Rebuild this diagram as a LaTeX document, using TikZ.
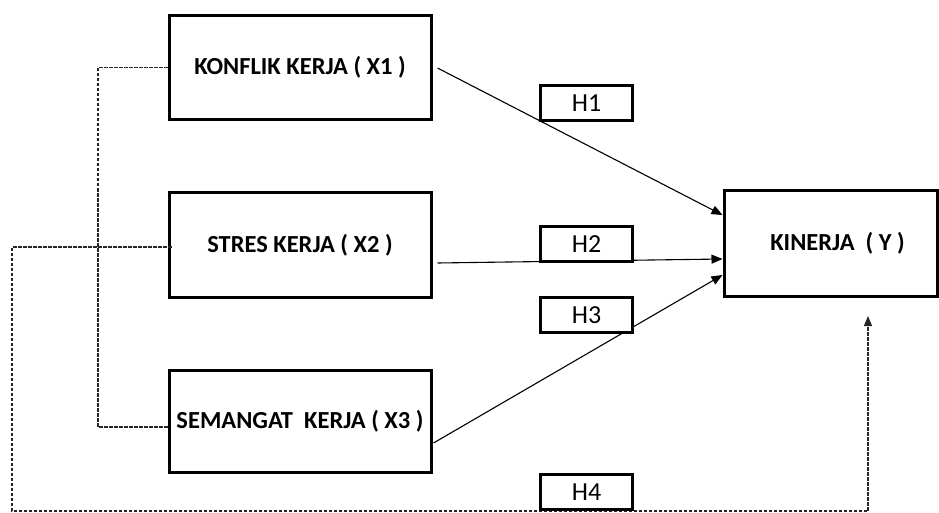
\documentclass[tikz,border=0pt]{standalone}
\usepackage{fontspec}
\setmainfont{Carlito}
\usetikzlibrary{arrows.meta,calc}
\begin{document}
\begin{tikzpicture}[x=1pt,y=-1pt,
  varbox/.style={draw=black,line width=3pt,fill=white,inner sep=0pt,font=\fontsize{24.5}{28}\selectfont\bfseries},
  hbox/.style={draw=black,line width=2.2pt,fill=white,minimum width=92pt,minimum height=35pt,inner sep=0pt,font=\fontsize{26}{29}\selectfont},
  path/.style={line width=1.1pt,-{Triangle[length=11pt,width=9pt]}},
  dline/.style={line width=1.1pt,dash pattern=on 3.5pt off 1.5pt,black!85}
]
\useasboundingbox (0,0) rectangle (939,513);
\fill[white] (0,0) rectangle (939,513);

% variable boxes
\node[varbox,minimum width=262pt,minimum height=104pt] (X1) at (300,67.5) {KONFLIK KERJA ( X1 )};
\node[varbox,minimum width=262pt,minimum height=104pt] (X2) at (300,245) {STRES KERJA ( X2 )};
\node[varbox,minimum width=262pt,minimum height=102pt] (X3) at (300,421) {SEMANGAT~~KERJA ( X3 )};
\node[varbox,minimum width=213pt,minimum height=105pt] (Y) at (830.5,243.5) {\hspace*{14pt}KINERJA~~( Y )};

% dashed connections
\coordinate (bx) at (98,0);
\draw[dline] (X1.west) -- (X1.west -| bx) -- ($(X3.west -| bx)+(0,6)$) -- ($(X3.west)+(0,6)$);
\coordinate (h4end) at (868,316);
\draw[dline,-{Triangle[length=10pt,width=8pt]}] ($(X2.west)+(4,2)$) -- (12,247) -- (12,511) -- (868,511) -- (h4end);

% direct paths
\draw[path] ($(X1.east)+(5,0.5)$) -- ($(Y.west)+(0,-28.5)$);
\draw[path] ($(X2.east)+(5,18)$) -- ($(Y.west)+(0,15.5)$);
\draw[path] ($(X3.east)+(1,22)$) -- ($(Y.west)+(0,31.5)$);

% hypothesis labels
\node[hbox] (H1) at (586.5,103) {H1};
\node[hbox] (H2) at (586.5,244) {H2};
\node[hbox] (H3) at (586.5,315) {H3};
\node[hbox] (H4) at (586.5,492) {H4};
\end{tikzpicture}
\end{document}
